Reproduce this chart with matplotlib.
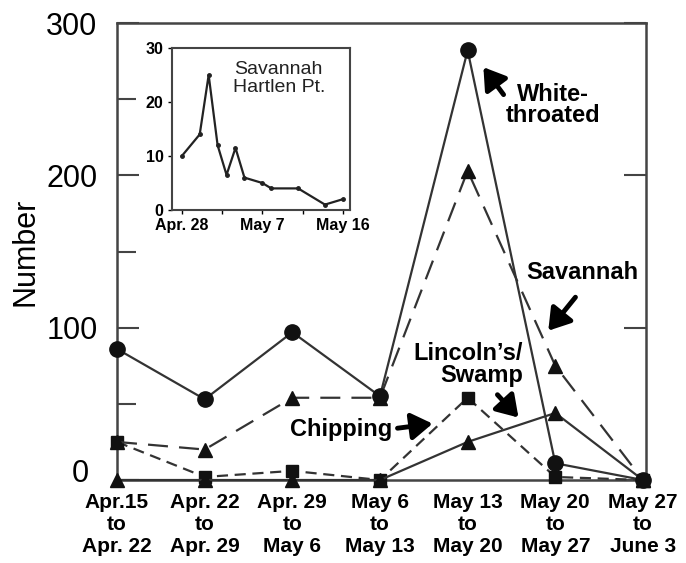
import matplotlib
matplotlib.use("Agg")
import matplotlib.pyplot as plt
from matplotlib.transforms import ScaledTranslation

plt.rcParams["font.family"] = ["Liberation Sans", "DejaVu Sans"]

# weekly periods (main chart)
periods = ["Apr.15\nto\nApr. 22", "Apr. 22\nto\nApr. 29", "Apr. 29\nto\nMay 6",
           "May 6\nto\nMay 13", "May 13\nto\nMay 20", "May 20\nto\nMay 27",
           "May 27\nto\nJune 3"]
white_throated = [86, 53, 97, 55, 282, 11, 0]
savannah = [25, 20, 54, 54, 203, 75, 0]
chipping = [0, 0, 0, 0, 25, 44, 0]
lincoln_swamp = [25, 2, 6, 0, 54, 2, 0]

# inset: Savannah at Hartlen Pt. (days after Apr. 28)
inset_days = [0, 2, 3, 4, 5, 6, 7, 9, 10, 13, 16, 18]
inset_counts = [10, 14, 25, 12, 6.5, 11.5, 6, 5, 4, 4, 1, 2]
inset_ticks = [0, 9, 18]
inset_ticklabels = ["Apr. 28", "May 7", "May 16"]

line_col = "#333333"
mark_col = "#111111"
spine_col = "#444444"

fig = plt.figure(figsize=(6.86, 5.63), dpi=100)
ax = fig.add_axes([0.1706, 0.1474, 0.7711, 0.8117])

x = list(range(len(periods)))
ax.plot(x, lincoln_swamp, color=line_col, lw=1.6, dashes=(5, 3), marker="s",
        ms=9, mfc=mark_col, mec=mark_col, clip_on=False, zorder=3)
ax.plot(x, chipping, color=line_col, lw=1.6, marker="^", ms=10,
        mfc=mark_col, mec=mark_col, clip_on=False, zorder=3)
ax.plot(x, savannah, color=line_col, lw=1.6, dashes=(9, 5), marker="^", ms=10,
        mfc=mark_col, mec=mark_col, clip_on=False, zorder=4)
ax.plot(x, white_throated, color=line_col, lw=1.6, marker="o", ms=11,
        mfc=mark_col, mec=mark_col, clip_on=False, zorder=5)

ax.set_xlim(0.02, 6.035)
ax.set_ylim(0, 300)
ax.set_xticks(x)
ax.set_xticklabels(periods, fontsize=15, fontweight="bold", linespacing=1.2)
ax.set_yticks([0, 100, 200, 300])
ax.set_yticks([50, 150, 250], minor=True)
ax.tick_params(axis="y", which="major", direction="in", length=16, width=1.5,
               right=True, labelsize=22, pad=14, color=spine_col)
ax.tick_params(axis="y", which="minor", direction="in", length=14, width=1.5,
               left=True, right=False, color=spine_col)
ax.tick_params(axis="x", length=0, pad=9)
for s in ax.spines.values():
    s.set_color(spine_col)
    s.set_linewidth(1.8)
ax.set_ylabel("Number", fontsize=22, labelpad=4)

# the "0" label sits a little higher and further left in the original
zero_lab = ax.get_yticklabels()[0]
zero_lab.set_transform(zero_lab.get_transform() +
                       ScaledTranslation(-9 / 100, 10 / 100, fig.dpi_scale_trans))

arrow = dict(arrowstyle="-|>,head_length=0.7,head_width=0.45", lw=3.5,
             color="black", shrinkA=0, shrinkB=0, mutation_scale=18)
ax.annotate("", xy=(4.18, 271), xytext=(4.41, 253), arrowprops=arrow)
ax.text(4.97, 246, "White-\nthroated", fontsize=17, fontweight="bold",
        ha="center", va="center", linespacing=0.9)
ax.annotate("", xy=(4.92, 98), xytext=(5.23, 120), arrowprops=arrow)
ax.text(5.31, 136, "Savannah", fontsize=17, fontweight="bold",
        ha="center", va="center")
ax.annotate("", xy=(4.58, 41), xytext=(4.34, 56), arrowprops=arrow)
ax.text(4.63, 76, "Lincoln\u2019s/\nSwamp", fontsize=17, fontweight="bold",
        ha="right", va="center", multialignment="right", linespacing=0.95)
ax.annotate("", xy=(3.6, 37), xytext=(3.2, 34), arrowprops=arrow)
ax.text(2.56, 33, "Chipping", fontsize=17, fontweight="bold",
        ha="center", va="center")

# inset
axi = fig.add_axes([0.2507, 0.627, 0.2595, 0.2877])
axi.plot(inset_days, inset_counts, color="#222222", lw=1.6, marker="o", ms=2.5)
axi.set_xlim(-1.1, 18.8)
axi.set_ylim(0, 30)
axi.set_xticks(inset_ticks)
axi.set_xticklabels(inset_ticklabels, fontsize=11.5, fontweight="bold")
axi.set_xticks([4.5, 13.5], minor=True)
axi.set_yticks([0, 10, 20, 30])
axi.set_yticklabels(["0", "10", "20", "30"], fontsize=11.5, fontweight="bold")
axi.tick_params(which="both", direction="out", length=3, width=1, pad=3)
for s in axi.spines.values():
    s.set_color(spine_col)
    s.set_linewidth(1.5)
axi.text(0.6, 0.81, "Savannah\nHartlen Pt.", transform=axi.transAxes,
         fontsize=14, ha="center", va="center", color="#222222", linespacing=1.05)

fig.savefig("out.png", dpi=100)
